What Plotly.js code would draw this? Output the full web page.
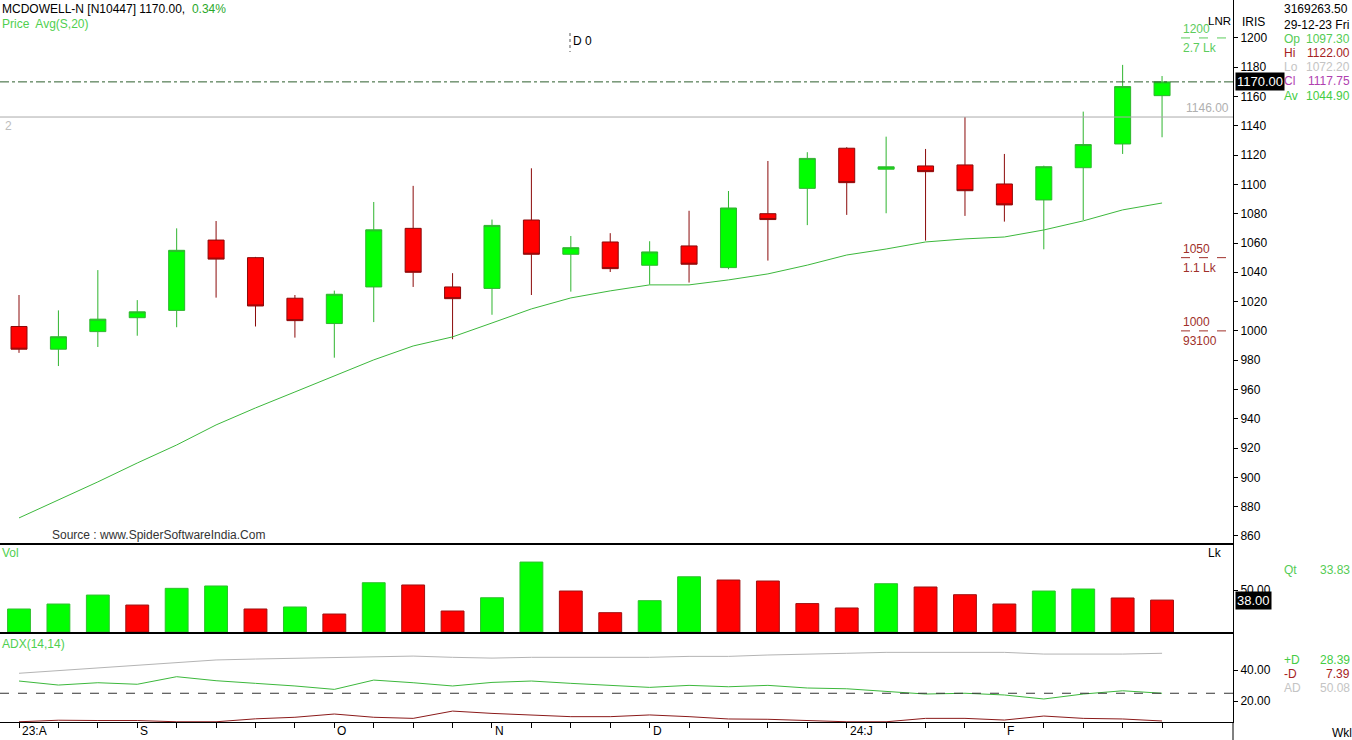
<!DOCTYPE html>
<html>
<head>
<meta charset="utf-8">
<script src="https://cdn.plot.ly/plotly-3.0.1.min.js"></script>
<style>html,body{margin:0;padding:0;background:#fff;}#chart{width:1352px;height:740px;}</style>
</head>
<body>
<div id="chart"></div>
<script>
// ---------- DATA ----------
const weeks = ['11-08-23','18-08-23','25-08-23','01-09-23','08-09-23','15-09-23','22-09-23','29-09-23','06-10-23','13-10-23','20-10-23','27-10-23','03-11-23','10-11-23','17-11-23','24-11-23','01-12-23','08-12-23','15-12-23','22-12-23','29-12-23','05-01-24','12-01-24','19-01-24','26-01-24','02-02-24','09-02-24','16-02-24','23-02-24','01-03-24'];
const openP  = [1003, 987.5, 999.5, 1009, 1014, 1062, 1050, 1022.3, 1005, 1030, 1070, 1030, 1029, 1075.7, 1052.3, 1060.7, 1044.8, 1058, 1043.2, 1080, 1097.3, 1124.7, 1110.4, 1112.6, 1113.3, 1100.3, 1089.4, 1111.4, 1127.6, 1160.6];
const highP  = [1024.5, 1014, 1041.5, 1021, 1070, 1075, 1050.5, 1024.5, 1027.5, 1088, 1099, 1039.4, 1076, 1111, 1064.8, 1066.7, 1061.2, 1082, 1095.5, 1116, 1122, 1125.4, 1132.6, 1124.2, 1146, 1120.8, 1112.8, 1149.7, 1181.6, 1174];
const lowP   = [985, 976, 989, 996.7, 1002.5, 1022.7, 1003, 995.4, 981.7, 1006, 1030, 994.3, 1011, 1024.5, 1026.8, 1040.2, 1031.6, 1033, 1042.1, 1048, 1072.2, 1079.2, 1080.3, 1061.6, 1078.5, 1074.6, 1055.7, 1075.7, 1120.8, 1132.2];
const closeP = [987.5, 996, 1008, 1013, 1055, 1049, 1017, 1007, 1025, 1069, 1040, 1022, 1072, 1052.3, 1056.8, 1042.5, 1053.9, 1045.5, 1083.9, 1076, 1117.75, 1101.2, 1112, 1108.7, 1095.7, 1086, 1112.1, 1127.2, 1166.8, 1170];
const sma20  = [872.3, 884.6, 896.9, 909.8, 922.1, 935.8, 947.4, 958.3, 969.2, 980.2, 989.7, 995.9, 1005.4, 1015, 1022.5, 1027.3, 1031.4, 1031.4, 1034.8, 1038.9, 1044.9, 1051.8, 1055.9, 1060.7, 1062.8, 1064.1, 1068.9, 1075.1, 1082.6, 1087.3];
const volumeLk = [27.4, 33.3, 44, 32.1, 52, 54.8, 27.4, 29.8, 21.4, 58.7, 56, 25, 40.8, 83.3, 48.8, 23, 37.3, 65.8, 61.9, 60.7, 33.83, 28.6, 57.5, 53.6, 44.4, 33.3, 48.8, 51.2, 40.5, 38];
const volumeDir = ['u','u','u','d','u','u','d','u','d','u','d','d','u','u','d','d','u','u','d','d','d','d','u','d','d','d','u','u','d','d'];
const adxAD   = [37.9, 39.6, 41.5, 43.2, 45.2, 46.5, 47.1, 47.5, 47.9, 48.4, 49, 48.2, 47.7, 48.2, 48.2, 48.6, 48.2, 48.8, 48.8, 49.7, 50.08, 50.8, 51.4, 51.4, 51.4, 51.4, 50.3, 50.3, 50.3, 50.8];
const plusDI  = [32.9, 30.3, 31.8, 30.8, 35.7, 33.1, 31.4, 29.7, 27.5, 33.5, 31.8, 29.7, 32.0, 32.9, 31.4, 30.3, 28.8, 30.1, 29.2, 30.1, 28.39, 27.9, 26, 24.5, 25, 23.9, 21.3, 24.5, 26.6, 25];
const minusDI = [6.6, 7.6, 7.4, 7.4, 6.6, 6.6, 8.5, 9.5, 11.6, 9.5, 8.8, 13.5, 12, 11, 9.9, 9.9, 11, 9.9, 8.4, 8.2, 7.39, 6.6, 6.6, 8.8, 8.8, 7.7, 10.3, 8.8, 8.4, 7.1];
const tickIdx = [0, 3, 8, 12, 16, 21, 25];
const tickLabels = ['23:A', 'S', 'O', 'N', 'D', '24:J', 'F'];
const priceTicks = [860,880,900,920,940,960,980,1000,1020,1040,1060,1080,1100,1120,1140,1160,1180,1200];
const lastPrice = 1170.00, changePct = '0.34%';
const resistLevel = 1146.00;
const levelPrices = [1200, 1050, 1000];
const levelQty = ['2.7 Lk', '1.1 Lk', '93100'];
const info = {total:'3169263.50', date:'29-12-23 Fri', op:'1097.30', hi:'1122.00', lo:'1072.20', cl:'1117.75', av:'1044.90', qt:'33.83', pd:'28.39', md:'7.39', ad:'50.08'};
const adxThreshold = 25;

// ---------- LAYOUT HELPERS ----------
const W = 1352, H = 740, ML = 0, MR = 119, MT = 0, MB = 18;
const PW = W - ML - MR, PH = H - MT - MB;
const px = v => (v - ML) / PW;
const py = v => (PH + MT - v) / PH;
const FONT = 'Liberation Sans, Arial, sans-serif';
const GREEN = '#00ff00', RED = '#ff0000';

const traces = [
  {type:'candlestick', x:weeks, open:openP, high:highP, low:lowP, close:closeP, xaxis:'x', yaxis:'y',
   increasing:{line:{color:'#2fb52f', width:1}, fillcolor:GREEN},
   decreasing:{line:{color:'#8b0a0a', width:1}, fillcolor:RED},
   whiskerwidth:0, hoverinfo:'skip'},
  {type:'scatter', mode:'lines', x:weeks, y:sma20, xaxis:'x', yaxis:'y', line:{color:'#3cb83c', width:1}, hoverinfo:'skip'},
  {type:'bar', x:weeks, y:volumeLk, xaxis:'x', yaxis:'y2', width:0.58,
   marker:{color:volumeDir.map(d => d === 'u' ? GREEN : RED),
           line:{color:volumeDir.map(d => d === 'u' ? '#2fc02f' : '#a01010'), width:1}}, hoverinfo:'skip'},
  {type:'scatter', mode:'lines', x:weeks, y:adxAD, xaxis:'x', yaxis:'y3', line:{color:'#b4b4b4', width:1}, hoverinfo:'skip'},
  {type:'scatter', mode:'lines', x:weeks, y:plusDI, xaxis:'x', yaxis:'y3', line:{color:'#3cb83c', width:1}, hoverinfo:'skip'},
  {type:'scatter', mode:'lines', x:weeks, y:minusDI, xaxis:'x', yaxis:'y3', line:{color:'#8b1a1a', width:1}, hoverinfo:'skip'}
];

const dADX = [0, 89/PH], dVol = [89/PH, 178/PH], dPrice = [178/PH, 1];
const yAx = {side:'right', showline:true, linecolor:'#000', linewidth:1, ticks:'outside', ticklen:4, tickcolor:'#000',
             showgrid:false, zeroline:false, fixedrange:true, tickfont:{family:FONT, size:12, color:'#000'}};

const ann = [];
function A(text, x, y, opts) { ann.push(Object.assign({text, xref:'paper', yref:'paper', x:px(x), y:py(y), xanchor:'left', yanchor:'middle', showarrow:false, font:{family:FONT, size:12, color:'#000'}}, opts || {})); }
function C(color, size) { return {family:FONT, size:size || 12, color}; }

A('MCDOWELL-N [N10447] ' + lastPrice.toFixed(2) + ',  <span style="color:#2aa82a">' + changePct + '</span>', 0, 9);
A('Price  Avg(S,20)', 0, 24, {font:C('#4fcf4f')});
A('D 0', 571, 41);
A('2', 3, 126, {font:C('#bdbdbd')});
A(resistLevel.toFixed(2), 1231, 108, {xanchor:'right', font:C('#b0b0b0')});
A('LNR', 1233, 21, {xanchor:'right', font:C('#000', 11.5)});
A('IRIS', 1240, 22);
A(info.total, 1282, 9);
A(info.date, 1282, 25);
const rows = [['Op', info.op, '#55cc55', 39], ['Hi', info.hi, '#a52222', 53], ['Lo', info.lo, '#c4c4c4', 67], ['Cl', info.cl, '#b040b0', 81], ['Av', info.av, '#44cc44', 96]];
rows.forEach(r => { A(r[0], 1282, r[3], {font:C(r[2])}); A(r[1], 1352, r[3], {xanchor:'right', font:C(r[2])}); });
const levelColors = ['#5ccc5c', '#a0302a', '#a0302a'];
levelPrices.forEach((p, i) => {
  ann.push({text:String(p), xref:'paper', yref:'y', x:px(1181), y:p, xanchor:'left', yanchor:'bottom', yshift:0, showarrow:false, font:C(levelColors[i])});
  ann.push({text:levelQty[i], xref:'paper', yref:'y', x:px(1181), y:p, xanchor:'left', yanchor:'top', yshift:-1, showarrow:false, font:C(levelColors[i])});
});
ann.push({text:lastPrice.toFixed(2), xref:'paper', yref:'y', x:px(1235), y:lastPrice, xanchor:'left', yanchor:'middle', showarrow:false, bgcolor:'#000', borderpad:1, font:C('#fff', 13)});
ann.push({text:volumeLk[volumeLk.length-1].toFixed(2), xref:'paper', yref:'y2', x:px(1235), y:volumeLk[volumeLk.length-1], xanchor:'left', yanchor:'middle', showarrow:false, bgcolor:'#000', borderpad:1, font:C('#fff', 13)});
A('Vol', 0, 553, {font:C('#4fcf4f')});
A('Lk', 1224, 553, {xanchor:'right'});
A('Qt', 1282, 570, {font:C('#55cc55')}); A(info.qt, 1352, 570, {xanchor:'right', font:C('#55cc55')});
A('ADX(14,14)', 0, 644, {font:C('#4fcf4f')});
A('+D', 1282, 660, {font:C('#44cc44')}); A(info.pd, 1352, 660, {xanchor:'right', font:C('#44cc44')});
A('-D', 1282, 674, {font:C('#a52222')}); A(info.md, 1352, 674, {xanchor:'right', font:C('#a52222')});
A('AD', 1282, 688, {font:C('#c4c4c4')}); A(info.ad, 1352, 688, {xanchor:'right', font:C('#c4c4c4')});
A('Wkl', 1330, 733);
A('Source : www.SpiderSoftwareIndia.Com', 50, 535, {font:C('#333')});
tickIdx.forEach((i, k) => ann.push({text:tickLabels[k], xref:'x', yref:'paper', x:weeks[i], y:py(731), xanchor:'left', yanchor:'middle', xshift:1, showarrow:false, font:C('#000')}));

const shapes = [
  {type:'line', xref:'paper', yref:'paper', x0:0, x1:1, y0:py(544), y1:py(544), line:{color:'#000', width:2}},
  {type:'line', xref:'paper', yref:'paper', x0:0, x1:1, y0:py(633), y1:py(633), line:{color:'#000', width:2}},
  {type:'line', xref:'paper', yref:'paper', x0:1, x1:1, y0:0, y1:py(740), line:{color:'#000', width:1}},
  {type:'line', xref:'paper', yref:'y', x0:0, x1:1, y0:lastPrice, y1:lastPrice, line:{color:'#2e5f2e', width:1, dash:'dashdot'}},
  {type:'line', xref:'paper', yref:'y', x0:0, x1:1, y0:resistLevel, y1:resistLevel, line:{color:'#aaaaaa', width:1}},
  {type:'line', xref:'paper', yref:'paper', x0:px(570), x1:px(570), y0:py(33), y1:py(52), line:{color:'#555', width:1, dash:'dot'}},
  {type:'line', xref:'paper', yref:'y3', x0:0, x1:1, y0:adxThreshold, y1:adxThreshold, line:{color:'#333', width:1, dash:'dash'}}
];
levelPrices.forEach((p, i) => shapes.push({type:'line', xref:'paper', yref:'y', x0:px(1181), x1:1, y0:p, y1:p, line:{color:levelColors[i], width:1, dash:'dash'}}));

const layout = {
  width:W, height:H, margin:{l:ML, r:MR, t:MT, b:MB, pad:0}, autosize:false,
  paper_bgcolor:'#fff', plot_bgcolor:'#fff', showlegend:false, hovermode:false, dragmode:false,
  font:{family:FONT, size:12, color:'#000'}, boxgap:0.42,
  xaxis:{type:'category', anchor:'y3', range:[-0.482, 30.8], rangeslider:{visible:false}, showgrid:false, zeroline:false,
         showline:true, linecolor:'#000', linewidth:1, ticks:'outside', ticklen:5, tickcolor:'#000', tickvals:weeks, showticklabels:false, fixedrange:true},
  yaxis:Object.assign({}, yAx, {domain:dPrice, range:[854.5, 1225.9], tickvals:priceTicks, ticktext:priceTicks.map(String)}),
  yaxis2:Object.assign({}, yAx, {domain:dVol, range:[-1.2, 104.8], tickvals:[50], ticktext:['50.00']}),
  yaxis3:Object.assign({}, yAx, {domain:dADX, range:[6.45, 63.9], tickvals:[20, 40], ticktext:['20.00', '40.00']}),
  annotations:ann, shapes:shapes
};
Plotly.newPlot('chart', traces, layout, {staticPlot:true, displayModeBar:false});
</script>
</body>
</html>
